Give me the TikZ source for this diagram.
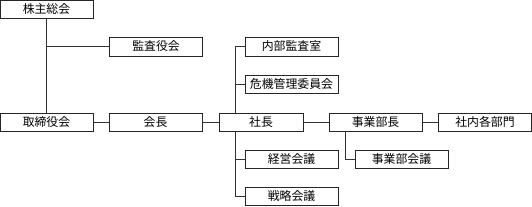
\documentclass[tikz,border=0pt]{standalone}
\usepackage{fontspec}
\newfontfamily\jp{Noto Sans CJK JP}
\begin{document}
\begin{tikzpicture}[x=0.75pt,y=-0.75pt,
  box/.style={draw=black!85,line width=0.75pt,fill=white,inner sep=0pt,minimum height=13.5pt,font=\jp\fontsize{8.9}{9.5}\selectfont},
  w93/.style={minimum width=69.75pt},
  w84/.style={minimum width=63pt},
  conn/.style={draw=black!80,line width=0.75pt}]
\useasboundingbox (0,0) rectangle (532,207);
\node[box,w93] (kabu) at (46.5,9.5) {株主総会};
\node[box,w93,minimum height=14.25pt] (kansa) at (156,46.5) {監査役会};
\node[box,w93] (tori) at (46.5,122) {取締役会};
\node[box,w93] (kaicho) at (155.5,122) {会長};
\node[box,w84] (shacho) at (261,122) {社長};
\node[box,w93] (jbc) at (375.5,122) {事業部長};
\node[box,w93] (shanai) at (485,122) {社内各部門};
\node[box,w93,minimum height=14.25pt] (naibu) at (291.5,46.5) {内部監査室};
\node[box,w93] (kiki) at (291.5,84) {危機管理委員会};
\node[box,w93] (keiei) at (291.5,159) {経営会議};
\node[box,w93] (senr) at (291.5,196.5) {戦略会議};
\node[box,w93] (jbk) at (401.5,159) {事業部会議};
\coordinate (sx) at (235,0);
\coordinate (jx) at (345.7,0);
\draw[conn] (kabu) -- (tori);
\draw[conn] (kabu.south |- kansa) -- (kansa.west);
\draw[conn] (tori) -- (kaicho);
\draw[conn] (kaicho) -- (shacho);
\draw[conn] (shacho) -- (jbc);
\draw[conn] (jbc) -- (shanai);
\draw[conn] (naibu.west) -| (sx |- shacho.north);
\draw[conn] (kiki.west) -- (sx |- kiki);
\draw[conn] (sx |- shacho.south) |- (senr.west);
\draw[conn] (keiei.west) -- (sx |- keiei);
\draw[conn] (jx |- jbc.south) |- (jbk.west);
\end{tikzpicture}
\end{document}
